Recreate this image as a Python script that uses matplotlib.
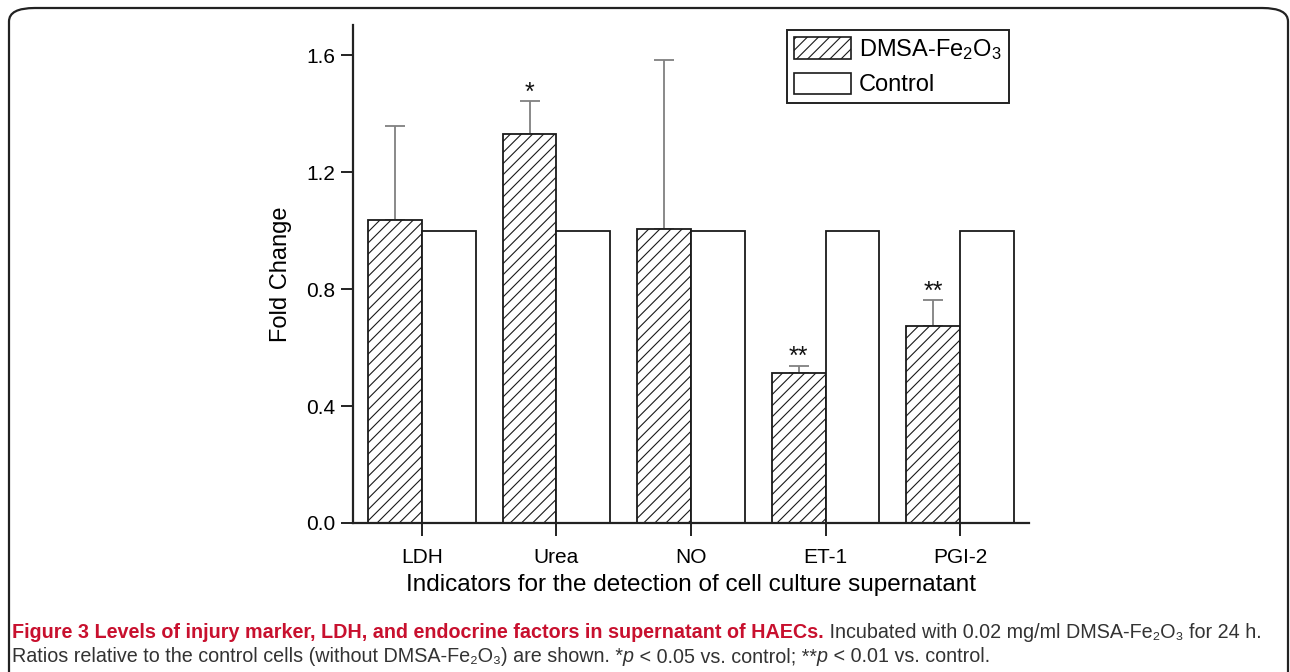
import numpy as np
import matplotlib
matplotlib.use("Agg")
import matplotlib.pyplot as plt
from matplotlib.patches import FancyBboxPatch, Patch

# データ
categories = ["LDH", "Urea", "NO", "ET-1", "PGI-2"]
dmsa = [1.035, 1.331, 1.005, 0.513, 0.675]
dmsa_err = [0.322, 0.112, 0.578, 0.025, 0.088]
control = [1.0, 1.0, 1.0, 1.0, 1.0]
stars = ["", "*", "", "**", "**"]
yticks = [0.0, 0.4, 0.8, 1.2, 1.6]

plt.rcParams["font.family"] = ["Liberation Sans", "DejaVu Sans"]
plt.rcParams["mathtext.fontset"] = "custom"
plt.rcParams["mathtext.rm"] = "Liberation Sans"
plt.rcParams["mathtext.it"] = "Liberation Sans:italic"
plt.rcParams["hatch.linewidth"] = 0.8
plt.rcParams["hatch.color"] = "#333333"

W = 0.4

fig = plt.figure(figsize=(12.9, 6.72), dpi=100)
ax = fig.add_axes([353 / 1290, 1 - 523 / 672, 676 / 1290, 498 / 672])

x = np.arange(len(categories))
ax.bar(x - W / 2, dmsa, W, facecolor="white", edgecolor="#1a1a1a",
       linewidth=1.3, hatch="///", label="DMSA-Fe$_2$O$_3$", zorder=2)
ax.bar(x + W / 2, control, W, facecolor="white", edgecolor="#1a1a1a",
       linewidth=1.3, label="Control", zorder=2)
ax.errorbar(x - W / 2, dmsa, yerr=[np.zeros(len(x)), dmsa_err], fmt="none",
            ecolor="#808080", elinewidth=1.3, capsize=7, capthick=1.3, zorder=1)

for xi, v, e, s in zip(x, dmsa, dmsa_err, stars):
    if s:
        ax.text(xi - W / 2, v + e - 0.012, s, ha="center", va="bottom",
                fontsize=18, color="#111111")

ax.set_xlim(-0.513, 4.513)
ax.set_ylim(0, 1.703)
ax.set_xticks(x)
ax.set_xticklabels(categories, fontsize=15)
ax.set_yticks(yticks)
ax.set_yticklabels([f"{t:.1f}" for t in yticks], fontsize=15)
ax.tick_params(direction="out", length=9, width=1.4, color="#222222")
ax.tick_params(axis="x", pad=9)
ax.tick_params(axis="y", pad=4)
for sp in ["top", "right"]:
    ax.spines[sp].set_visible(False)
for sp in ["left", "bottom"]:
    ax.spines[sp].set_linewidth(1.6)
    ax.spines[sp].set_color("#222222")

ax.set_ylabel("Fold Change", fontsize=17, labelpad=10)
ax.set_xlabel("Indicators for the detection of cell culture supernatant",
              fontsize=17.5, labelpad=5)

handles = [Patch(facecolor="white", edgecolor="#1a1a1a", hatch="///", linewidth=1.2),
           Patch(facecolor="white", edgecolor="#1a1a1a", linewidth=1.2)]
leg = ax.legend(handles, ["DMSA-Fe$_2$O$_3$", "Control"], loc="upper left",
                bbox_to_anchor=((787 - 353) / 676, (523 - 30) / 498),
                borderaxespad=0, fontsize=17, fancybox=False, framealpha=1,
                edgecolor="#222222", handlelength=2.4, handleheight=1.0,
                handletextpad=0.35, labelspacing=0.45, borderpad=0.3)
leg.get_frame().set_linewidth(1.4)

# 枠
frame = FancyBboxPatch((9 / 1290, 1 - 700 / 672), 1279 / 1290, 692 / 672,
                       boxstyle="round,pad=0,rounding_size=0.02",
                       transform=fig.transFigure, fill=False,
                       edgecolor="#222222", linewidth=1.6)
fig.patches.append(frame)

# キャプション
CAP_FONT = ["Liberation Sans Narrow", "Liberation Sans", "DejaVu Sans"]
line1 = [
    ("Figure 3 Levels of injury marker, LDH, and endocrine factors in supernatant of HAECs.",
     dict(weight="bold", color="#c8102e")),
    (" Incubated with 0.02 mg/ml DMSA-Fe₂O₃ for 24 h.", dict(color="#333333")),
]
line2 = [
    ("Ratios relative to the control cells (without DMSA-Fe₂O₃) are shown. *", dict(color="#333333")),
    ("p", dict(style="italic", color="#333333")),
    (" < 0.05 vs. control; **", dict(color="#333333")),
    ("p", dict(style="italic", color="#333333")),
    (" < 0.01 vs. control.", dict(color="#333333")),
]

renderer = fig.canvas.get_renderer()


def place_runs(runs, x0, y0, size):
    xpos = x0
    for txt, props in runs:
        t = fig.text(xpos / 1290, 1 - y0 / 672, txt, fontsize=size,
                     family=CAP_FONT, va="center", ha="left", **props)
        bb = t.get_window_extent(renderer)
        xpos += bb.width
    return xpos


def run_width(runs, size):
    w = 0
    for txt, props in runs:
        t = fig.text(0, 0, txt, fontsize=size, family=CAP_FONT, **props)
        w += t.get_window_extent(renderer).width
        t.remove()
    return w


size = 11.5
size = size * 1253 / run_width(line1, size)
place_runs(line1, 12, 633, size)
place_runs(line2, 12, 657, size)

fig.savefig("out.png", dpi=100)
